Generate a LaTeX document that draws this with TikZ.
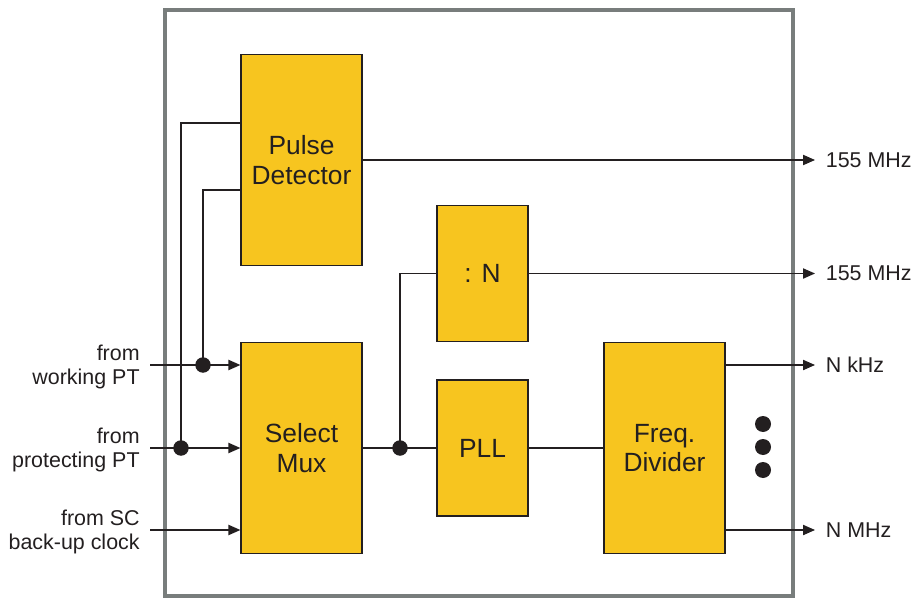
\documentclass[tikz,border=0pt]{standalone}
\usepackage{fontspec}
\setmainfont{Liberation Sans}
\usetikzlibrary{positioning,arrows.meta,calc}
\definecolor{blockyel}{RGB}{247,197,31}
\definecolor{framegray}{RGB}{120,125,124}
\definecolor{wire}{RGB}{35,31,32}
\tikzset{
  blk/.style={draw=wire,fill=blockyel,line width=0.7pt,minimum width=2.42cm,minimum height=4.22cm,
    align=center,inner sep=0pt,text=wire,font=\fontsize{15pt}{17pt}\selectfont},
  sblk/.style={blk,minimum width=1.82cm,minimum height=2.72cm},
  sig/.style={draw=wire,line width=0.75pt},
  sigarr/.style={sig,-{Triangle[length=6.8pt,width=5.8pt]}},
  jdot/.style={circle,fill=wire,inner sep=0pt,minimum size=0.31cm},
  inlbl/.style={font=\fontsize{12.2pt}{13.6pt}\selectfont,align=right,inner sep=0pt,anchor=north east,text=wire},
  outlbl/.style={font=\fontsize{12.2pt}{13.6pt}\selectfont,inner ysep=0pt,inner xsep=0.21cm,anchor=west,text=wire},
}
\begin{document}
\begin{tikzpicture}[x=0.02cm,y=-0.02cm]
  \useasboundingbox (0,0) rectangle (913,598);
  \draw[framegray,line width=2.5pt] (165,10) rectangle (793,596);
  % blocks
  \node[blk] (pulse) at (301.5,160) {Pulse\\Detector};
  \node[blk] (mux) at (301.5,448) {Select\\Mux};
  \node[sblk] (divn) at (482.5,273.5) {: N};
  \node[sblk] (pll) at (482.5,448) {PLL};
  \node[blk] (fdiv) at (664.5,448) {Freq.\\Divider};
  % inputs
  \foreach \k/\yy/\txt in {1/365/{from\\working PT},2/448/{from\\protecting PT},
                           3/530/{from SC\\back-up clock}}{
    \node[inlbl] (in\k) at (140,\yy-20) {\txt};
    \coordinate (w\k) at (150,\yy);
    \draw[sigarr] (w\k) -- (w\k -| mux.west);
  }
  \node[jdot] (j1) at (203,365) {};
  \node[jdot] (j2) at (181,448) {};
  \draw[sig] (j1.center) |- ($(pulse.west)+(0,30)$);
  \draw[sig] (j2.center) |- ($(pulse.west)+(0,-37)$);
  % outputs
  \node[outlbl] (o1) at (815,160) {155 MHz};
  \node[outlbl] (o2) at (815,273.5) {155 MHz};
  \node[outlbl] (o3) at (815,365) {N kHz};
  \node[outlbl] (o4) at (815,530) {N MHz};
  \draw[sigarr] (pulse.east) -- (o1);
  \draw[sigarr] (divn.east) -- (o2);
  \draw[sigarr] (fdiv.east |- o3) -- (o3);
  \draw[sigarr] (fdiv.east |- o4) -- (o4);
  % clock path
  \node[jdot] (j3) at (400,448) {};
  \draw[sig] (mux.east) -- (pll.west);
  \draw[sig] (j3.center) |- (divn.west);
  \draw[sig] (pll.east) -- (fdiv.west);
  \foreach \yy in {424,447,470}
    \node[jdot,minimum size=0.32cm] (more\yy) at (763,\yy) {};
\end{tikzpicture}
\end{document}
